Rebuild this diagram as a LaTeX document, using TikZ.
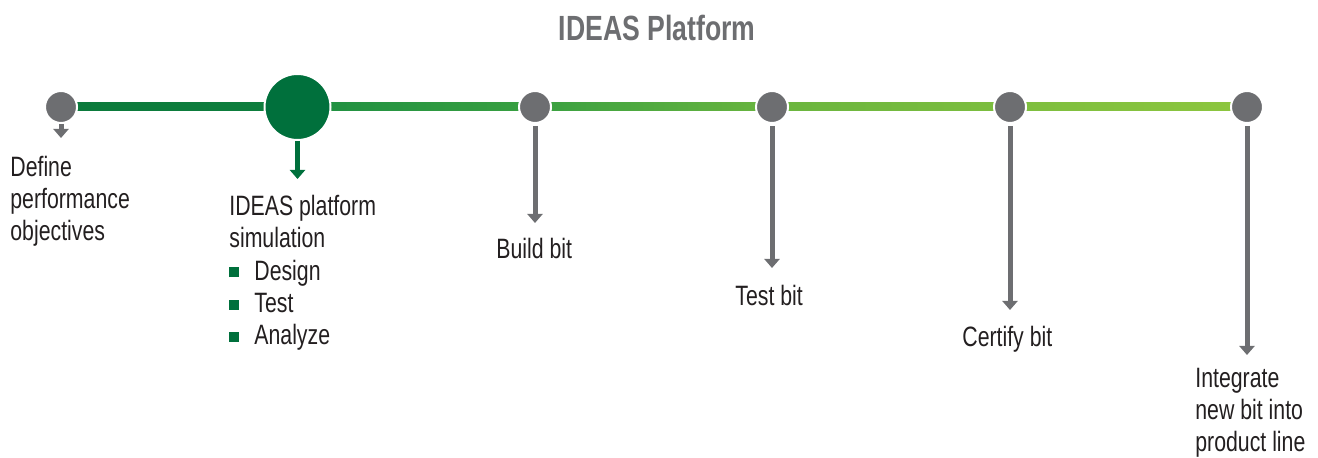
\documentclass[tikz,border=0pt]{standalone}
\usepackage{fontspec}
\setmainfont{Liberation Sans}[FakeStretch=0.76]
\usetikzlibrary{arrows.meta}
\definecolor{stepgray}{HTML}{6D6E71}
\definecolor{txtc}{HTML}{231F20}
\definecolor{dgreen}{HTML}{00703C}
\definecolor{ga}{HTML}{0B7A3C}
\definecolor{gb}{HTML}{0E7E3D}
\definecolor{gc}{HTML}{1E8F42}
\definecolor{gd}{HTML}{39A041}
\definecolor{ge}{HTML}{6AB53F}
\definecolor{gf}{HTML}{7DBE3F}
\definecolor{gg}{HTML}{8DC63F}
\newcommand{\bul}{\textcolor{dgreen}{\raisebox{1.5pt}{\rule{5pt}{5pt}}}\hspace{7.5pt}}
\begin{document}
\begin{tikzpicture}[x=0.5pt,y=-0.5pt,
  dot/.style={circle,fill=stepgray,draw=white,line width=1pt,minimum size=16pt,inner sep=0pt},
  bigdot/.style={circle,fill=dgreen,draw=white,line width=1pt,minimum size=33pt,inner sep=0pt},
  arr/.style={draw=stepgray,line width=2.5pt,-{Triangle[width=7.5pt,length=4.5pt]}},
  garr/.style={arr,draw=dgreen},
  txt/.style={text=txtc,font=\fontsize{14pt}{16.2pt}\selectfont,align=left,inner sep=0pt,anchor=base west},
  ttl/.style={text=stepgray,font=\fontsize{17.5pt}{20pt}\selectfont\bfseries,inner sep=0pt}]
\useasboundingbox (0,0) rectangle (1318,458);
\node[ttl] (title) at (657,28) {IDEAS Platform};
% node positions
\coordinate (c1) at (61,107);
\coordinate (c2) at (297.5,107);
\coordinate (c3) at (535,107);
\coordinate (c4) at (772,107);
\coordinate (c5) at (1010,107);
\coordinate (c6) at (1247,107);
% timeline segments
\shade[left color=ga,right color=gb] ([yshift=2pt]c1) rectangle ([yshift=-2pt]c2);
\shade[left color=gc,right color=gd] ([yshift=2pt]c2) rectangle ([yshift=-2pt]c3);
\shade[left color=gd,right color=ge] ([yshift=2pt]c3) rectangle ([yshift=-2pt]c4);
\shade[left color=ge,right color=gf] ([yshift=2pt]c4) rectangle ([yshift=-2pt]c5);
\shade[left color=gf,right color=gg] ([yshift=2pt]c5) rectangle ([yshift=-2pt]c6);
% circles
\node[dot] (n1) at (c1) {};
\node[bigdot] (n2) at (c2) {};
\node[dot] (n3) at (c3) {};
\node[dot] (n4) at (c4) {};
\node[dot] (n5) at (c5) {};
\node[dot] (n6) at (c6) {};
% arrow tips
\coordinate (t1) at (61,138);
\coordinate (t2) at (297.5,179);
\coordinate (t3) at (535,223);
\coordinate (t4) at (772,268);
\coordinate (t5) at (1010,310);
\coordinate (t6) at (1247,355);
\draw[arr] (n1) -- (t1);
\draw[garr] (n2) -- (t2);
\draw[arr,shorten <=1pt] (n3) -- (t3);
\draw[arr,shorten <=1pt] (n4) -- (t4);
\draw[arr,shorten <=1pt] (n5) -- (t5);
\draw[arr,shorten <=1pt] (n6) -- (t6);
% labels (base anchor = baseline of last line)
\node[txt] (l1) at (10,241) {Define\\performance\\objectives};
\node[txt] (l2) at (229,345) {IDEAS platform\\simulation\\\bul Design\\\bul Test\\\bul Analyze};
\node[txt] (l3) at (496,259) {Build bit};
\node[txt] (l4) at (735,306) {Test bit};
\node[txt] (l5) at (962,347) {Certify bit};
\node[txt] (l6) at (1195,452) {Integrate\\new bit into\\product line};
\end{tikzpicture}
\end{document}
